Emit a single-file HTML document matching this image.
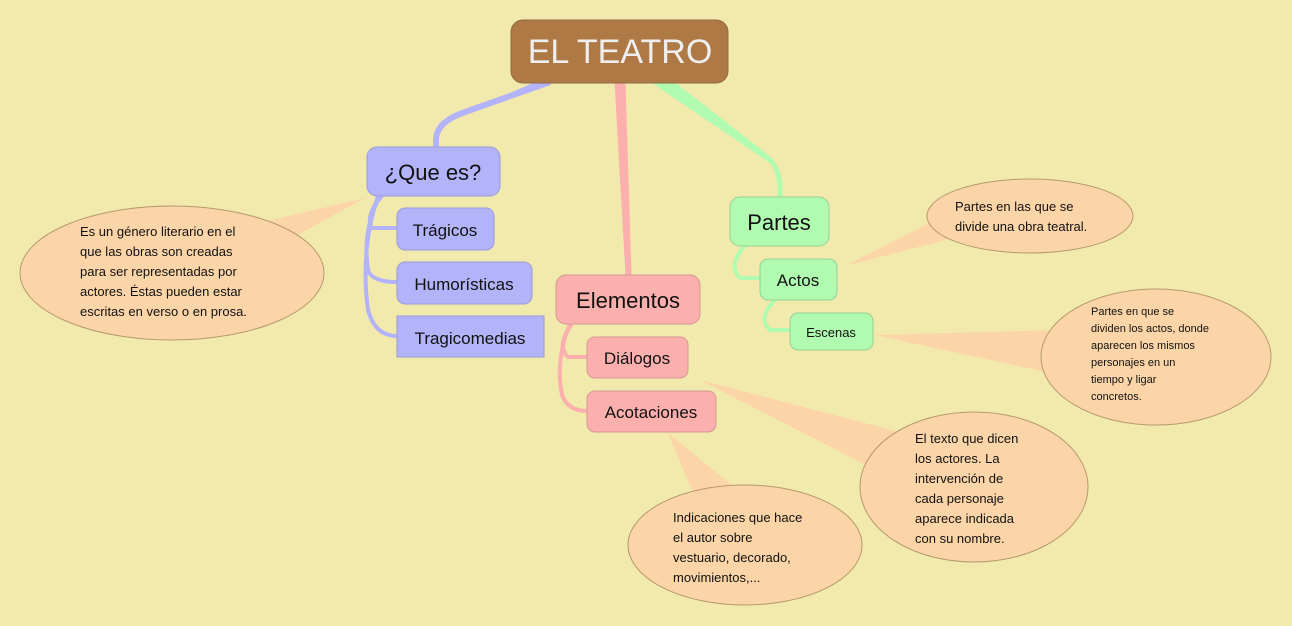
<!DOCTYPE html>
<html><head><meta charset="utf-8"><style>
body{margin:0;background:#f2e9ad;}
svg{display:block}
text{font-family:"Liberation Sans",sans-serif;}
.c{font-size:13px;fill:#111;}
</style></head><body>
<svg width="1292" height="626" viewBox="0 0 1292 626">
<rect width="1292" height="626" fill="#f2e9ad"/>
<g fill="#fbd5a8">
<polygon points="365,198 250,225 270,250"/>
<polygon points="845,266 965,205 965,235"/>
<polygon points="875,335 1060,330 1060,375"/>
<polygon points="700,380 930,440 905,485"/>
<polygon points="668,433 700,510 750,500"/>
</g>
<g fill="#fbd5a8" stroke="#b59a6c" stroke-width="1">
<ellipse cx="172" cy="273" rx="152" ry="67"/>
<ellipse cx="1030" cy="216" rx="103" ry="37"/>
<ellipse cx="1156" cy="357" rx="115" ry="68"/>
<ellipse cx="974" cy="487" rx="114" ry="75"/>
<ellipse cx="745" cy="545" rx="117" ry="60"/>
</g>
<path d="M550,82 L465,112 Q436,122 436,140 L436,148" stroke="#b3b3fa" stroke-width="6" fill="none"/>
<path d="M540,80 L565,78 L470,110 Z" fill="#b3b3fa"/>
<path d="M616,82 L624,82 L630,275 L627,275 Z" fill="#fbb0ae" stroke="#fbb0ae" stroke-width="3"/>
<path d="M655,82 L770,160 Q780,170 780,190 L780,198" stroke="#b0fbb0" stroke-width="5" fill="none"/>
<path d="M650,80 L672,80 L772,158 Z" fill="#b0fbb0"/>
<g fill="none" stroke="#b3b3fa" stroke-width="4">
<path d="M382,196 Q365,215 372,228 L397,228"/>
<path d="M380,196 Q362,230 368,270 Q372,282 397,282"/>
<path d="M378,196 Q360,250 368,310 Q375,336 397,336"/>
</g>
<g fill="none" stroke="#fbb0ae" stroke-width="4">
<path d="M572,324 Q556,345 568,357 L587,357"/>
<path d="M570,324 Q555,360 562,395 Q568,411 587,411"/>
</g>
<g fill="none" stroke="#b0fbb0" stroke-width="4">
<path d="M745,246 Q727,265 740,278 L760,278"/>
<path d="M775,300 Q757,318 770,330 L790,330"/>
</g>
<rect x="511" y="20" width="217" height="63" rx="12" fill="#ae7944" stroke="#8f6a40"/>
<text x="620" y="63" font-size="34" fill="#eee" text-anchor="middle">EL TEATRO</text>
<g fill="#b3b3fa" stroke="#9c9cd6">
<rect x="367" y="147" width="133" height="49" rx="10"/>
<rect x="397" y="208" width="97" height="42" rx="8"/>
<rect x="397" y="262" width="135" height="42" rx="8"/>
<rect x="397" y="316" width="147" height="41"/>
</g>
<g fill="#fbb0ae" stroke="#d49794">
<rect x="556" y="275" width="144" height="49" rx="10"/>
<rect x="587" y="337" width="101" height="41" rx="8"/>
<rect x="587" y="391" width="129" height="41" rx="8"/>
</g>
<g fill="#b0fbb0" stroke="#95d195">
<rect x="730" y="197" width="99" height="49" rx="10"/>
<rect x="760" y="259" width="77" height="41" rx="8"/>
<rect x="790" y="313" width="83" height="37" rx="8"/>
</g>
<g fill="#111" text-anchor="middle">
<text x="433" y="180" font-size="22">¿Que es?</text>
<text x="445" y="236" font-size="17">Trágicos</text>
<text x="464" y="290" font-size="17">Humorísticas</text>
<text x="470" y="344" font-size="17">Tragicomedias</text>
<text x="628" y="308" font-size="22">Elementos</text>
<text x="637" y="364" font-size="17">Diálogos</text>
<text x="651" y="418" font-size="17">Acotaciones</text>
<text x="779" y="230" font-size="22">Partes</text>
<text x="798" y="286" font-size="17">Actos</text>
<text x="831" y="337" font-size="13">Escenas</text>
</g>
<g class="c">
<text x="80" y="236">Es un género literario en el</text>
<text x="80" y="256">que las obras son creadas</text>
<text x="80" y="276">para ser representadas por</text>
<text x="80" y="296">actores. Éstas pueden estar</text>
<text x="80" y="316">escritas en verso o en prosa.</text>
<text x="955" y="211">Partes en las que se</text>
<text x="955" y="231">divide una obra teatral.</text>
<text x="915" y="443">El texto que dicen</text>
<text x="915" y="463">los actores. La</text>
<text x="915" y="483">intervención de</text>
<text x="915" y="503">cada personaje</text>
<text x="915" y="523">aparece indicada</text>
<text x="915" y="543">con su nombre.</text>
<text x="673" y="522">Indicaciones que hace</text>
<text x="673" y="542">el autor sobre</text>
<text x="673" y="562">vestuario, decorado,</text>
<text x="673" y="582">movimientos,...</text>
</g>
<g font-size="11" fill="#111">
<text x="1091" y="315">Partes en que se</text>
<text x="1091" y="332">dividen los actos, donde</text>
<text x="1091" y="349">aparecen los mismos</text>
<text x="1091" y="366">personajes en un</text>
<text x="1091" y="383">tiempo y ligar</text>
<text x="1091" y="400">concretos.</text>
</g>
</svg>
</body></html>
